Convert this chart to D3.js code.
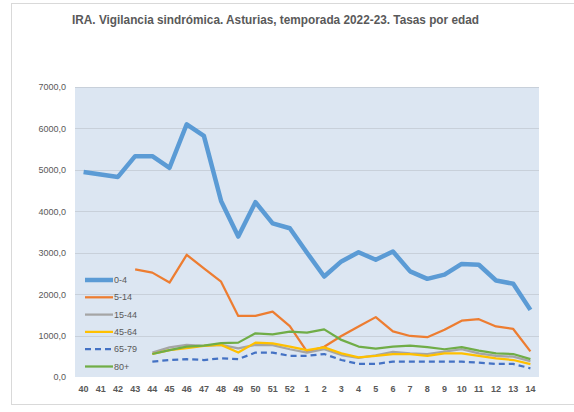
<!DOCTYPE html>
<html>
<head>
<meta charset="utf-8">
<script src="https://cdn.jsdelivr.net/npm/d3@7"></script>
<style>
body { margin: 0; background: #fff; }
svg { display: block; font-family: 'Liberation Sans', Arial, sans-serif; }
</style>
</head>
<body>
<svg id="chart" width="574" height="412"></svg>
<script>
// week labels on the x axis
var weeks = ['40','41','42','43','44','45','46','47','48','49','50','51','52',
             '1','2','3','4','5','6','7','8','9','10','11','12','13','14'];

// rates per age group (null = no value that week)
var s0_4   = [4950,4890,4830,5330,5330,5050,6100,5820,4250,3390,4220,3710,3590,3000,2425,2790,3010,2830,3030,2550,2370,2470,2730,2710,2330,2250,1620];
var s5_14  = [null,null,null,2600,2520,2280,2950,2620,2300,1475,1475,1580,1230,610,730,990,1220,1445,1100,990,960,1140,1360,1395,1220,1160,620];
var s15_44 = [null,null,null,null,590,715,775,750,775,690,775,770,670,590,670,530,460,525,605,570,555,610,670,570,510,490,380];
var s45_64 = [null,null,null,null,555,650,695,750,775,590,830,810,735,650,715,570,475,510,555,555,510,570,570,510,450,410,310];
var s65_79 = [null,null,null,null,370,410,430,410,450,430,590,590,510,510,555,410,315,315,370,370,370,370,370,345,315,315,210];
var s80    = [null,null,null,null,555,650,735,760,815,830,1055,1030,1095,1070,1150,895,735,685,735,760,720,670,720,635,570,555,430];

var seriesNames = ['0-4','5-14','15-44','45-64','65-79','80+'];
var yTicks = [0,1000,2000,3000,4000,5000,6000,7000];

var series = [
    {name: seriesNames[0], values: s0_4,   color: '#5b9bd5', width: 4.5, dash: null},
    {name: seriesNames[1], values: s5_14,  color: '#ed7d31', width: 2.25, dash: null},
    {name: seriesNames[2], values: s15_44, color: '#a5a5a5', width: 2.25, dash: null},
    {name: seriesNames[3], values: s45_64, color: '#ffc000', width: 2.25, dash: null},
    {name: seriesNames[4], values: s65_79, color: '#4472c4', width: 2.25, dash: '6,4'},
    {name: seriesNames[5], values: s80,    color: '#70ad47', width: 2.25, dash: null}
];

var svg = d3.select('#chart');

// outer chart frame
svg.append('rect')
    .attr('x', 11.5).attr('y', 3.5)
    .attr('width', 600).attr('height', 401)
    .attr('fill', '#fff')
    .attr('stroke', '#d9d9d9');

// plot area
var plot = {l: 75, t: 87, r: 539, b: 377};

var x = d3.scaleBand().domain(weeks).range([plot.l, plot.r]);
var y = d3.scaleLinear().domain([0, 7000]).range([plot.b, plot.t]);

svg.append('rect')
    .attr('x', plot.l).attr('y', plot.t)
    .attr('width', plot.r - plot.l).attr('height', plot.b - plot.t)
    .attr('fill', '#dce6f2');

// gridlines
svg.append('g').selectAll('line')
    .data(yTicks.slice(1))
    .enter().append('line')
    .attr('x1', plot.l).attr('x2', plot.r)
    .attr('y1', function(d) { return Math.round(y(d)) + 0.5; })
    .attr('y2', function(d) { return Math.round(y(d)) + 0.5; })
    .attr('stroke', '#c8d0da').attr('stroke-width', 1);

// title
svg.append('text')
    .attr('x', 275.5).attr('y', 24)
    .attr('text-anchor', 'middle')
    .attr('textLength', 407).attr('lengthAdjust', 'spacingAndGlyphs')
    .style('font-size', '13px').style('font-weight', 'bold')
    .style('fill', '#595959')
    .text('IRA. Vigilancia sindrómica. Asturias, temporada 2022-23. Tasas por edad');

// y axis
var fmt = function(d) { return d3.format('.1f')(d).replace('.', ','); };
var yAxis = d3.axisLeft(y).tickValues(yTicks).tickSize(0).tickPadding(9).tickFormat(fmt);
var yG = svg.append('g').attr('transform', 'translate(' + plot.l + ',0)').call(yAxis);
yG.select('.domain').remove();
yG.selectAll('text').style('font-size', '9px').style('font-family', "'Liberation Sans', Arial")
    .style('fill', '#595959');

// x axis
var xAxis = d3.axisBottom(x).tickSize(0).tickPadding(9);
var xG = svg.append('g').attr('transform', 'translate(0,' + plot.b + ')').call(xAxis);
xG.select('.domain').remove();
xG.selectAll('text').style('font-size', '9px').style('font-family', "'Liberation Sans', Arial")
    .style('fill', '#595959').style('font-weight', 'bold');

// lines
var line = d3.line()
    .defined(function(d) { return d != null; })
    .x(function(d, i) { return x(weeks[i]) + x.bandwidth() / 2; })
    .y(function(d) { return y(d); });

svg.append('g').selectAll('path')
    .data(series)
    .enter().append('path')
    .attr('d', function(s) { return line(s.values); })
    .attr('fill', 'none')
    .attr('stroke', function(s) { return s.color; })
    .attr('stroke-width', function(s) { return s.width; })
    .attr('stroke-dasharray', function(s) { return s.dash; })
    .attr('stroke-linejoin', 'round');

// legend
var legend = svg.append('g').selectAll('g')
    .data(series)
    .enter().append('g')
    .attr('transform', function(d, i) { return 'translate(85,' + (280 + i * 17.3) + ')'; });

legend.append('line')
    .attr('x1', 0).attr('x2', 28)
    .attr('stroke', function(s) { return s.color; })
    .attr('stroke-width', function(s) { return s.width; })
    .attr('stroke-dasharray', function(s) { return s.dash; });

legend.append('text')
    .attr('x', 29).attr('dy', '0.35em')
    .style('font-size', '9px').style('fill', '#595959')
    .text(function(s) { return s.name; });
</script>
</body>
</html>
